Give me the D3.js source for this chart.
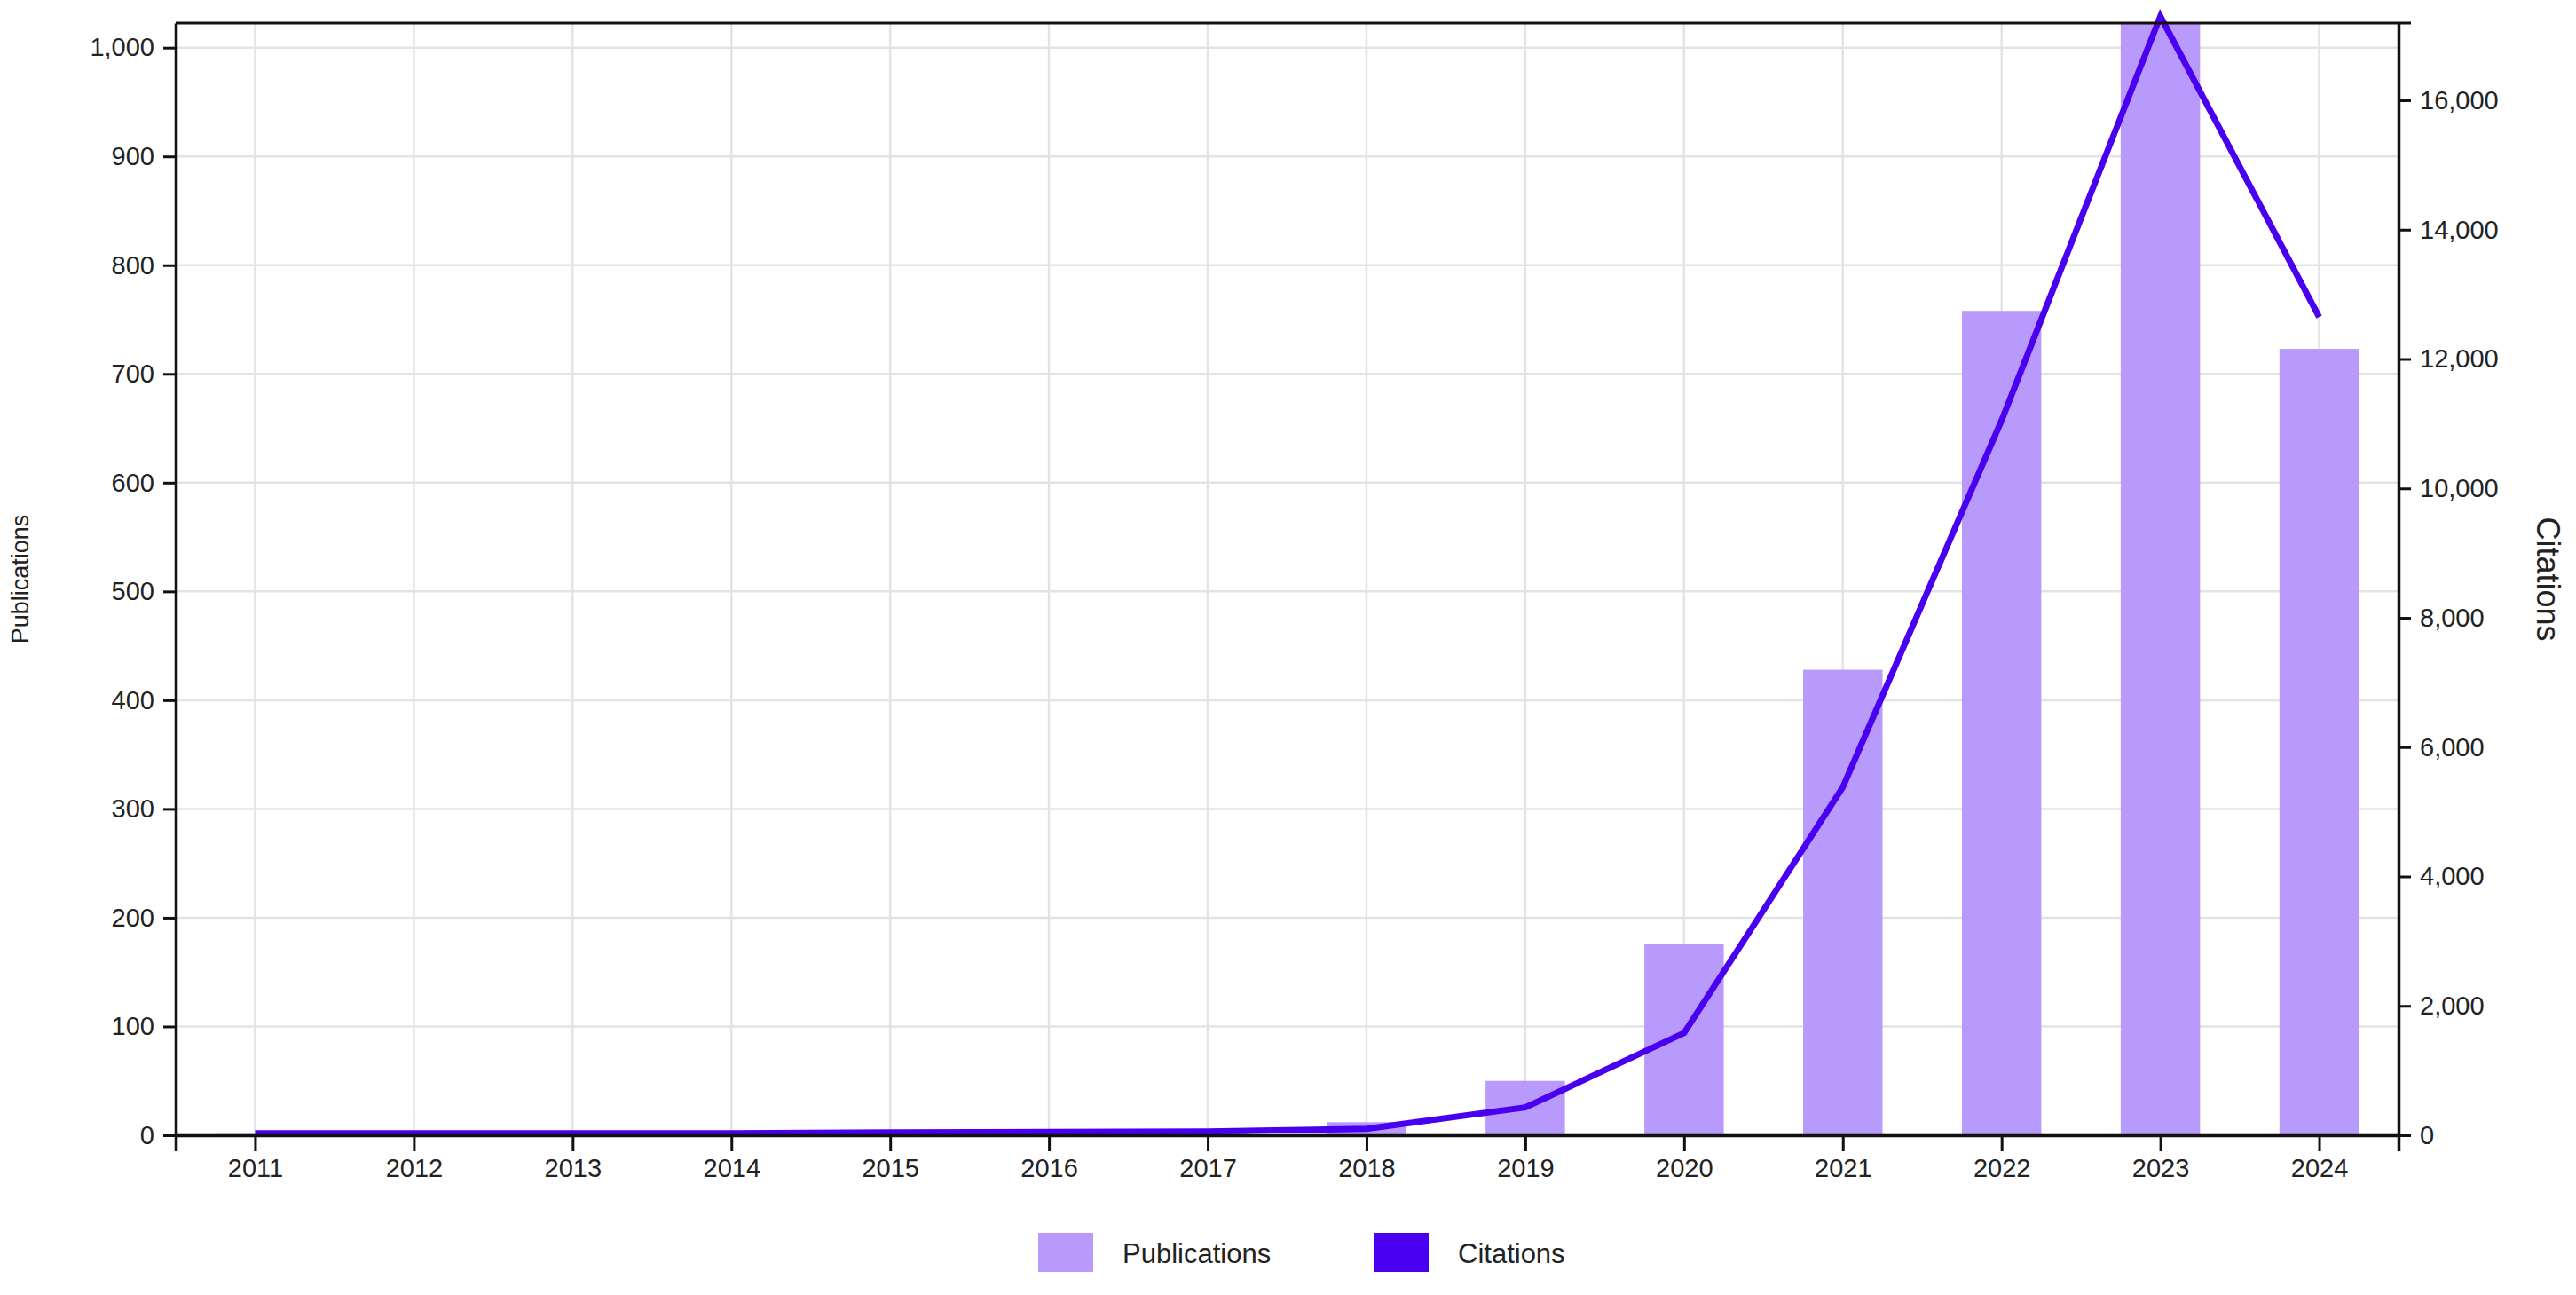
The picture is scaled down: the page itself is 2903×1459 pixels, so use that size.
<!DOCTYPE html>
<html><head><meta charset="utf-8">
<script src="https://cdn.jsdelivr.net/npm/d3@7"></script>
<style>body{margin:0;background:#fff}text{font-family:Arial,"Liberation Sans",sans-serif;fill:#222}</style>
</head><body><svg id="chart" width="2903" height="1459"></svg>
<script>
const years = [2011,2012,2013,2014,2015,2016,2017,2018,2019,2020,2021,2022,2023,2024];
const publications = [1,1,1,1,2,2,3,12,50,176,428,758,1030,723];
const citations = [30,30,30,30,45,50,60,100,430,1580,5380,11050,17300,12650];
const pubTicks = [0,100,200,300,400,500,600,700,800,900,1000];
const citeTicks = [0,2000,4000,6000,8000,10000,12000,14000,16000];

const margin = {top: 26, right: 200, bottom: 180, left: 198};
const W = 2903, H = 1459;
const width = W - margin.left - margin.right;
const height = 1279 - margin.top;

const svg = d3.select("#chart").append("g")
	.attr("transform", "translate(" + margin.left + "," + margin.top + ")");

const x = d3.scalePoint().domain(years).range([0, width]).padding(0.5);
const barW = x.step() * 0.5;
const y = d3.scaleLinear().domain([0, 1022.6]).range([height, 0]);
const y2 = d3.scaleLinear().domain([0, 17194]).range([height, 0]);

// grid
svg.append("g").selectAll("line").data(years).enter().append("line")
	.attr("x1", d => x(d)).attr("x2", d => x(d)).attr("y1", 0).attr("y2", height)
	.attr("stroke", "#e3e3e3").attr("stroke-width", 2.5);
svg.append("g").selectAll("line").data(pubTicks).enter().append("line")
	.attr("x1", 0).attr("x2", width).attr("y1", d => y(d)).attr("y2", d => y(d))
	.attr("stroke", "#e3e3e3").attr("stroke-width", 2.5);

// bars
svg.append("g").selectAll("rect").data(years).enter().append("rect")
	.attr("x", d => x(d) - barW / 2)
	.attr("width", barW)
	.attr("y", (d, i) => y(Math.min(publications[i], 1022.6)))
	.attr("height", (d, i) => height - y(Math.min(publications[i], 1022.6)))
	.attr("fill", "#b899fc");

// line
svg.append("path")
	.datum(years)
	.attr("fill", "none").attr("stroke", "#4a00f0").attr("stroke-width", 7)
	.attr("stroke-linejoin", "miter")
	.attr("d", d3.line().x(d => x(d)).y((d, i) => y2(citations[i])));

// top border
svg.append("line").attr("x1", 0).attr("x2", width + 14).attr("y1", 0).attr("y2", 0)
	.attr("stroke", "#111").attr("stroke-width", 3);

const styleAxis = g => {
	g.selectAll(".domain").attr("stroke", "#111").attr("stroke-width", 3.5);
	g.selectAll(".tick line").attr("stroke", "#111").attr("stroke-width", 3);
	g.selectAll(".tick text").style("font-size", "29px").attr("fill", "#222");
};

svg.append("g").attr("transform", "translate(0," + height + ")")
	.call(d3.axisBottom(x).tickSize(18).tickSizeOuter(18).tickPadding(8))
	.call(styleAxis);
svg.append("g")
	.call(d3.axisLeft(y).tickValues(pubTicks).tickSize(14).tickSizeOuter(0).tickPadding(10))
	.call(styleAxis);
svg.append("g").attr("transform", "translate(" + width + ",0)")
	.call(d3.axisRight(y2).tickValues(citeTicks).tickSize(14).tickSizeOuter(0).tickPadding(10))
	.call(styleAxis);

// axis titles
svg.append("text")
	.attr("transform", "translate(" + (-166) + "," + (height / 2) + ") rotate(-90)")
	.style("text-anchor", "middle").style("font-size", "27px")
	.text("Publications");
svg.append("text")
	.attr("transform", "translate(" + (width + 156) + "," + (height / 2) + ") rotate(90)")
	.style("text-anchor", "middle").style("font-size", "36px")
	.text("Citations");

// legend
const legend = [{name: "Publications", color: "#b899fc", x: 1170}, {name: "Citations", color: "#4a00f0", x: 1548}];
const lg = d3.select("#chart").append("g").selectAll("g").data(legend).enter().append("g")
	.attr("transform", d => "translate(" + d.x + ",1389)");
lg.append("rect").attr("width", 62).attr("height", 44).attr("fill", d => d.color);
lg.append("text").attr("x", 95).attr("y", 34).style("font-size", "31px").text(d => d.name);
</script>
</body></html>
